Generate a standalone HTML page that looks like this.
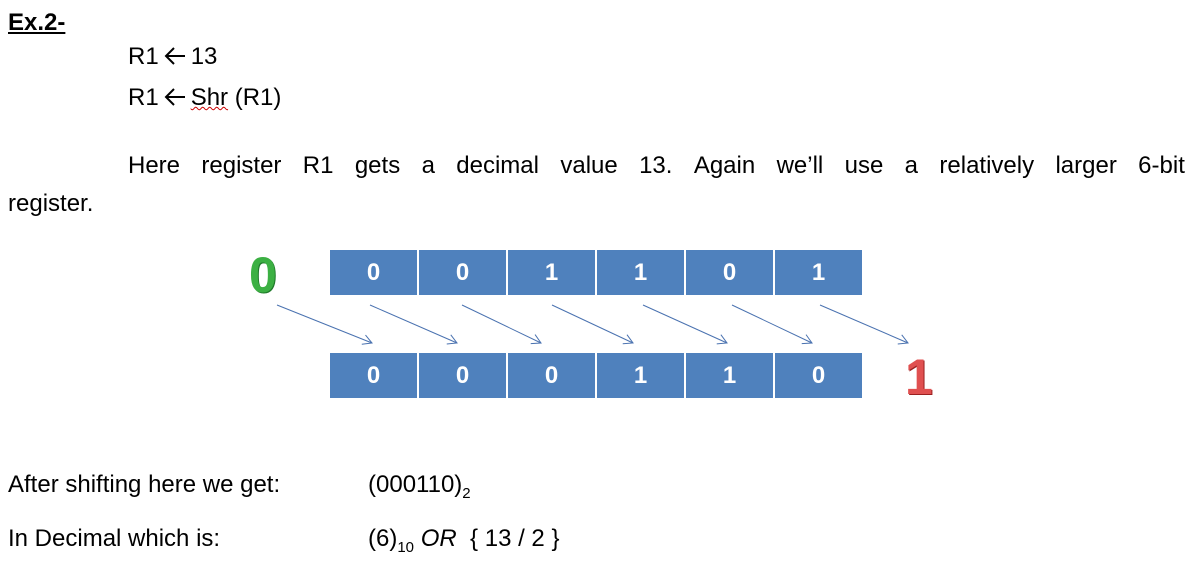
<!DOCTYPE html>
<html><head><meta charset="utf-8"><style>
body{margin:0;width:1195px;height:572px;background:#fff;position:relative;overflow:hidden;font-family:"Liberation Sans",sans-serif;color:#000}
.t{position:absolute;font-size:24px;white-space:nowrap;line-height:1}
.c{position:absolute;width:87px;height:45px;background:#4f81bd;color:#fff;font-weight:bold;font-size:24px;display:flex;align-items:center;justify-content:center}
.big{position:absolute;font-size:50px;font-weight:bold;line-height:1}
.ar{display:inline-block;vertical-align:-2px;margin:0 4px}
</style></head><body>
<div class="t" style="left:8px;top:11px;font-weight:bold;text-decoration:underline">Ex.2-</div>
<div class="t" style="left:128px;top:45px">R1<svg class="ar" width="24" height="20"><path d="M22,10 H3 M11,2 L3,10 L11,18" fill="none" stroke="#000" stroke-width="2"/></svg>13</div>
<div class="t" style="left:128px;top:86px">R1<svg class="ar" width="24" height="20"><path d="M22,10 H3 M11,2 L3,10 L11,18" fill="none" stroke="#000" stroke-width="2"/></svg><span style="text-decoration:underline wavy #c00;text-decoration-thickness:1px">Shr</span> (R1)</div>
<div class="t" style="left:128px;top:154px;width:1057px;display:flex;justify-content:space-between"><span>Here</span><span>register</span><span>R1</span><span>gets</span><span>a</span><span>decimal</span><span>value</span><span>13.</span><span>Again</span><span>we’ll</span><span>use</span><span>a</span><span>relatively</span><span>larger</span><span>6-bit</span></div>
<div class="t" style="left:8px;top:192px">register.</div>

<div class="big" style="left:249px;top:250px;color:#3cb043;text-shadow:1px 1px 0 #1f7a2a">0</div>
<div class="big" style="left:905px;top:352px;color:#e05050;text-shadow:1px 1px 0 #9a2020">1</div>

<div class="c" style="left:330px;top:250px">0</div>
<div class="c" style="left:419px;top:250px">0</div>
<div class="c" style="left:508px;top:250px">1</div>
<div class="c" style="left:597px;top:250px">1</div>
<div class="c" style="left:686px;top:250px">0</div>
<div class="c" style="left:775px;top:250px">1</div>

<div class="c" style="left:330px;top:353px">0</div>
<div class="c" style="left:419px;top:353px">0</div>
<div class="c" style="left:508px;top:353px">0</div>
<div class="c" style="left:597px;top:353px">1</div>
<div class="c" style="left:686px;top:353px">1</div>
<div class="c" style="left:775px;top:353px">0</div>

<svg style="position:absolute;left:0;top:0" width="1195" height="572">
<defs><marker id="a" markerWidth="12" markerHeight="12" refX="10" refY="6" orient="auto" markerUnits="userSpaceOnUse"><path d="M1,1 L10,6 L1,11" fill="none" stroke="#4a72b0" stroke-width="1"/></marker></defs>
<g stroke="#4a72b0" stroke-width="1" marker-end="url(#a)">
<line x1="277" y1="305" x2="372" y2="343"/>
<line x1="370" y1="305" x2="457" y2="343"/>
<line x1="462" y1="305" x2="541" y2="343"/>
<line x1="552" y1="305" x2="633" y2="343"/>
<line x1="643" y1="305" x2="727" y2="343"/>
<line x1="732" y1="305" x2="812" y2="343"/>
<line x1="820" y1="305" x2="908" y2="343"/>
</g></svg>

<div class="t" style="left:8px;top:473px">After shifting here we get:</div>
<div class="t" style="left:368px;top:473px">(000110)<sub style="font-size:15px;vertical-align:-6px">2</sub></div>
<div class="t" style="left:8px;top:527px">In Decimal which is:</div>
<div class="t" style="left:368px;top:527px">(6)<sub style="font-size:15px;vertical-align:-6px">10</sub> <i>OR</i>&nbsp; { 13 / 2 }</div>
</body></html>
